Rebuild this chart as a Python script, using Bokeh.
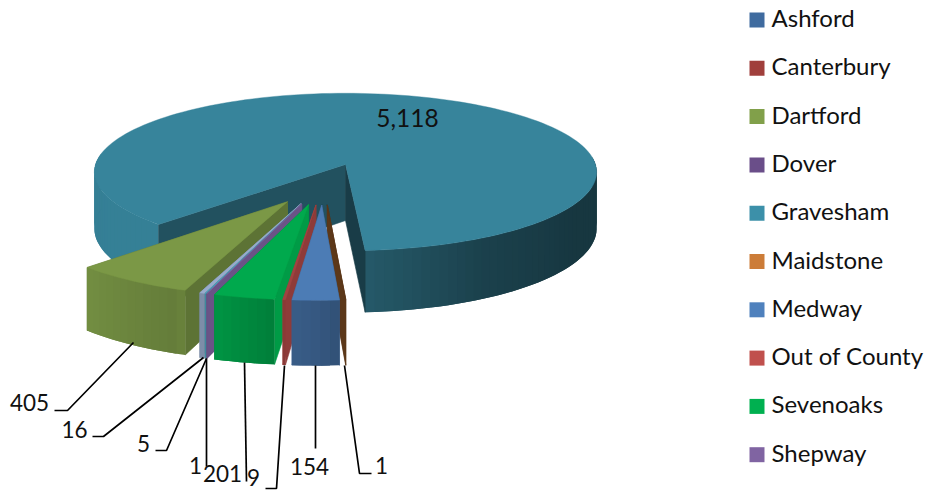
import math
from bokeh.plotting import figure
from bokeh.models import Range1d
from bokeh.core.properties import value
from bokeh.embed import file_html
from bokeh.resources import INLINE

# ---- data ----
categories = ["Ashford", "Canterbury", "Dartford", "Dover", "Gravesham", "Maidstone",
              "Medway", "Out of County", "Sevenoaks", "Shepway", "Swale", "Tonbridge"]
values = [0, 0, 405, 0, 5118, 1, 154, 9, 201, 1, 5, 16]
legend_count = 10

# ---- style ----
colors = ["#3f6b9f", "#a03f3c", "#81a04a", "#6a4e89", "#3c90a9", "#cc7c38",
          "#4f81bd", "#c0504d", "#00b050", "#8064a2", "#4ba6bd", "#98abcc"]
top_shade = {"Dartford": 0.95, "Gravesham": 0.92, "Medway": 0.96, "Sevenoaks": 0.96, "Out of County": 0.84,
             "Maidstone": 0.45}
low_wall_shade = {"Dartford": 0.72, "Gravesham": 0.42, "Sevenoaks": 0.88, "Out of County": 0.74,
                  "Shepway": 0.83, "Maidstone": 0.45, "Medway": 0.7, "Swale": 0.8, "Tonbridge": 0.8}
high_wall_shade = {"Gravesham": 0.42, "Maidstone": 0.45}
gravesham_start_wall_shade = 0.56
FONT = "Lato"
FS = "22.5px"
FS_LEG = "24px"
TEXT = "#111111"

# ---- pie geometry (page pixels) ----
CX, CY, A, B, K, H = 345.0, 164.0, 250.0, 78.0, 0.095, 56.0
START = 19.5      # degrees, measured clockwise from the bottom of the pie
EXPLODE = 0.255


def proj(x, y, z=0.0):
    s = 1.0 / (1.0 - K * y)
    return CX + A * x * s, CY + B * y * s + H * z * s


def pol(phi):
    r = math.radians(phi)
    return -math.sin(r), math.cos(r)


def shade(hexc, f):
    c = [int(hexc[i:i + 2], 16) for i in (1, 3, 5)]
    return "#%02x%02x%02x" % tuple(min(255, int(round(v * f))) for v in c)


WALL = [(-180, .38), (-60, .38), (-30, .45), (-4, .62), (0, .68), (6, .72), (18, .84),
        (22, .78), (45, .89), (90, .88), (180, .88)]


def wall_f(phi):
    phi = (phi + 180) % 360 - 180
    for (a, fa), (b, fb) in zip(WALL, WALL[1:]):
        if a <= phi <= b:
            return fa + (fb - fa) * (phi - a) / (b - a)
    return .88


total = sum(values)
slices = []
cum = START
for name, v, c in zip(categories, values, colors):
    if v == 0:
        continue
    sweep = v / total * 360.0
    slices.append(dict(name=name, c=c, lo=cum, hi=cum + sweep, mid=cum + sweep / 2))
    cum += sweep

gm = next(s for s in slices if s["name"] == "Gravesham")["mid"]
gx, gy = pol(gm)
C0 = (-EXPLODE * gx, -EXPLODE * gy)

p = figure(width=926, height=490, output_backend="svg", toolbar_location=None,
           x_range=Range1d(0, 926), y_range=Range1d(490, 0),
           x_axis_location=None, y_axis_location=None, min_border=0)
p.grid.visible = False
p.outline_line_color = None
p.background_fill_color = "white"


def poly(xs, ys, col, lw=0.6):
    if lw:
        p.patch(xs, ys, fill_color=col, line_color=col, line_width=lw)
    else:
        p.patch(xs, ys, fill_color=col, line_color=None)


for s in sorted(slices, key=lambda t: math.cos(math.radians(t["mid"]))):
    dx, dy = pol(s["mid"])
    ax, ay = C0[0] + EXPLODE * dx, C0[1] + EXPLODE * dy
    n = max(2, int((s["hi"] - s["lo"]) / 2.0) + 2)
    phis = [s["lo"] + (s["hi"] - s["lo"]) * i / (n - 1) for i in range(n)]
    pts = [(ax + pol(f)[0], ay + pol(f)[1]) for f in phis]
    big = s["name"] == "Gravesham"

    def outer():
        # each strip overlaps the next so no seams show; the far side is hidden, so it is skipped
        for i in range(n - 1):
            if math.cos(math.radians(phis[i])) < -0.12:
                continue
            j = min(i + 2, n - 1)
            if math.cos(math.radians(phis[j])) < -0.12:
                j = i + 1
            run = pts[i:j + 1]
            tops = [proj(x, y) for x, y in run]
            bots = [proj(x, y, 1) for x, y in run][::-1]
            f = wall_f((phis[i] + phis[i + 1]) / 2)
            if s["name"] == "Maidstone":
                f = 0.45
            col = shade(s["c"], f)
            poly([t[0] for t in tops + bots], [t[1] for t in tops + bots], col, 0)

    def radial():
        walls = [(pts[0], low_wall_shade.get(s["name"], .8) if not big else gravesham_start_wall_shade),
                 (pts[-1], high_wall_shade.get(s["name"], .8))]
        if not big:
            walls = walls[::-1]
        for (ex, ey), f in walls:
            a0, e0, e1, a1 = proj(ax, ay), proj(ex, ey), proj(ex, ey, 1), proj(ax, ay, 1)
            poly([a0[0], e0[0], e1[0], a1[0]], [a0[1], e0[1], e1[1], a1[1]], shade(s["c"], f))

    if big:
        outer()
        radial()
    else:
        radial()
        outer()

    # top face
    top = [proj(ax, ay)] + [proj(x, y) for x, y in pts]
    poly([t[0] for t in top], [t[1] for t in top], shade(s["c"], top_shade.get(s["name"], 1.0)), 0.4)

# ---- data labels and leaders (page pixels) ----
label_pos = {"Gravesham": (407, 117), "Dartford": (29, 402), "Tonbridge": (74, 429), "Swale": (143, 443),
             "Shepway": (195, 465), "Sevenoaks": (222, 473), "Out of County": (253, 477),
             "Medway": (309, 466), "Maidstone": (381, 465)}
leaders = {"Dartford": [(54, 410), (67, 410), (133, 342)],
           "Tonbridge": [(92, 436), (103, 436), (203, 357)],
           "Swale": [(155, 450), (166, 450), (206, 358)],
           "Shepway": [(206, 466), (206, 358)],
           "Sevenoaks": [(246, 481), (244, 362)],
           "Out of County": [(265, 488), (276, 488), (284, 365)],
           "Medway": [(315, 448), (315, 365)],
           "Maidstone": [(371, 473), (359, 473), (344, 365)]}
for name, pts in leaders.items():
    p.line([q[0] for q in pts], [q[1] for q in pts], line_color="black", line_width=1.7)
for name, v in zip(categories, values):
    if name in label_pos:
        x, y = label_pos[name]
        fs = "24.5px" if v >= 1000 else FS
        p.text([x], [y], text=[f"{v:,}"], text_font=value(FONT), text_font_size=fs, text_color=TEXT,
               text_align="center", text_baseline="middle")

# ---- legend ----
LEG_Y0, LEG_DY = 19.5, 48.3
for i, (name, c) in enumerate(zip(categories[:legend_count], colors[:legend_count])):
    y = LEG_Y0 + i * LEG_DY
    p.quad(left=[749], right=[764], top=[y - 7.5], bottom=[y + 7.5], fill_color=c, line_color=None)
    p.text([771], [y - 2.5], text=[name], text_font=value(FONT), text_font_size=FS_LEG, text_color=TEXT,
           text_align="left", text_baseline="middle")

open("out.html", "w").write(file_html(p, INLINE))
